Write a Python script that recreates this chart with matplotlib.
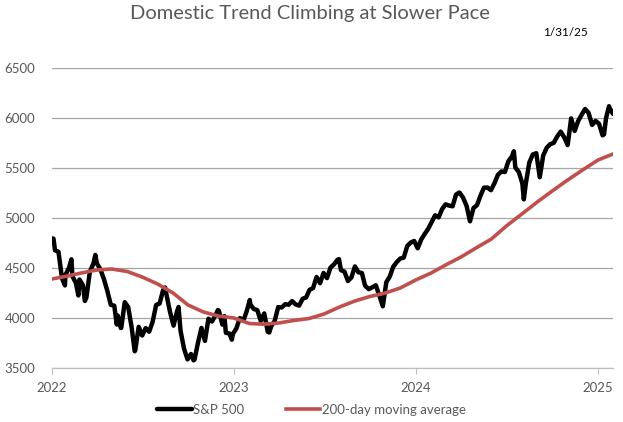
import matplotlib
matplotlib.use("Agg")
import matplotlib.pyplot as plt
import pandas as pd

# ---- S&P 500 weekly closes ----
sp_start_date = "2022-01-03"
sp_start_value = 4796
sp_2022 = [4677, 4662, 4398, 4432, 4500, 4418, 4349, 4385, 4329, 4204, 4463, 4543,
           4546, 4488, 4392, 4272, 4132, 4123, 4024, 3901, 4158, 4109, 3901, 3675,
           3912, 3825, 3899, 3863, 3962, 4130, 4145, 4280, 4228, 4058, 3924, 4067,
           3873, 3693, 3586, 3640, 3583, 3753, 3901, 3771, 3993, 3965, 4026, 4072,
           3934, 3852, 3845, 3840]
sp_2023 = [3895, 3999, 3973, 4071, 4136, 4090, 4079, 3970, 4046, 3862, 3917, 3971,
           4109, 4105, 4138, 4133, 4169, 4136, 4124, 4192, 4205, 4282, 4299, 4410,
           4348, 4450, 4399, 4505, 4536, 4582, 4478, 4464, 4370, 4406, 4516, 4457,
           4450, 4320, 4288, 4308, 4327, 4224, 4117, 4358, 4415, 4514, 4559, 4595,
           4604, 4719, 4755, 4770]
sp_2024 = [4697, 4784, 4840, 4891, 4959, 5027, 5006, 5089, 5137, 5124, 5117, 5234,
           5254, 5204, 5123, 4967, 5100, 5128, 5223, 5303, 5305, 5278, 5347, 5432,
           5465, 5460, 5567, 5615, 5505, 5459, 5346, 5344, 5554, 5635, 5648, 5408,
           5626, 5703, 5738, 5751, 5815, 5864, 5808, 5729, 5996, 5871, 5969, 6032,
           6090, 6051, 5931, 5971]
sp_2025 = [5942, 5827, 5997, 6101, 6041]

# intra-week highs and lows visible on the chart
extreme_dates = ["2022-01-04", "2022-01-27", "2022-02-09", "2022-02-23", "2022-03-08",
                 "2022-03-29", "2022-05-11", "2022-05-19", "2022-06-16", "2022-08-16",
                 "2022-09-12", "2022-10-12", "2022-11-30", "2022-12-13", "2022-12-28",
                 "2023-02-02", "2023-03-13", "2023-07-31", "2023-09-21", "2024-03-28",
                 "2024-04-19", "2024-07-16", "2024-08-05", "2024-09-06", "2024-12-06",
                 "2025-01-13", "2025-01-23"]
extreme_values = [4793, 4326, 4587, 4225, 4170,
                  4631, 3935, 3900, 3667, 4305,
                  4110, 3577, 4080, 4019, 3783,
                  4180, 3855, 4589, 4330, 5254,
                  4967, 5667, 5186, 5408, 6090,
                  5836, 6118]

# ---- 200-day moving average (monthly) ----
ma_dates = pd.date_range("2022-01-01", "2025-01-01", freq="MS").tolist() + [pd.Timestamp("2025-01-31")]
ma_values = [4390, 4420, 4450, 4480, 4490, 4465, 4410, 4340, 4250, 4130, 4060, 4020,
             4000, 3945, 3938, 3950, 3975, 3995, 4040, 4110, 4170, 4215, 4250, 4300,
             4380, 4450, 4530, 4610, 4700, 4790, 4920, 5040, 5160, 5270, 5380, 5480,
             5580, 5640]

title = "Domestic Trend Climbing at Slower Pace"
date_note = "1/31/25"
series_names = ["S&P 500", "200-day moving average"]
y_ticks = [3500, 4000, 4500, 5000, 5500, 6000, 6500]
x_tick_labels = ["2022", "2023", "2024", "2025"]

# ---- build series ----
weekly_vals = sp_2022 + sp_2023 + sp_2024 + sp_2025
weekly_dates = pd.date_range("2022-01-07", periods=len(weekly_vals), freq="W-FRI")
sp = pd.Series(weekly_vals, index=weekly_dates)
sp = pd.concat([sp, pd.Series([sp_start_value], index=[pd.Timestamp(sp_start_date)]),
                pd.Series(extreme_values, index=pd.to_datetime(extreme_dates))])
sp = sp[~sp.index.duplicated(keep="last")].sort_index()

ma = pd.Series(ma_values, index=pd.to_datetime(ma_dates))

plt.rcParams['font.family'] = ['Lato', 'DejaVu Sans']

fig = plt.figure(figsize=(6.23, 4.22), dpi=100)
ax = fig.add_axes([52/623, 1-368/422, (613-52)/623, (368-68)/422])

black_line, = ax.plot(sp.index, sp.values, color="black", lw=3.2,
                      solid_joinstyle="round", solid_capstyle="round")
red_line, = ax.plot(ma.index, ma.values, color="#C0504D", lw=2.6)

ax.set_xlim(pd.Timestamp("2022-01-01"), pd.Timestamp("2025-01-31"))
ax.set_ylim(3500, 6500)
ax.set_yticks(y_ticks)
ax.set_yticklabels([str(v) for v in y_ticks], color="#595959", fontsize=9.5)
ax.set_xticks([pd.Timestamp(f"{y}-01-01") for y in x_tick_labels])
ax.set_xticklabels(x_tick_labels, color="#595959", fontsize=9.5)
ax.grid(axis="y", color="#A6A6A6", lw=0.9)
ax.set_axisbelow(True)
for s in ["top", "right", "left"]:
    ax.spines[s].set_visible(False)
ax.spines["bottom"].set_color("#BFBFBF")
ax.spines["bottom"].set_linewidth(0.9)
ax.tick_params(axis="y", length=0, pad=12)
ax.tick_params(axis="x", length=4, color="#BFBFBF", pad=6)

fig.text(0.497, 1-13/422, title, ha="center", va="center", fontsize=14.5, color="#595959")
fig.text(565/623, 1-33/422, date_note, ha="center", va="center", fontsize=8.5, color="black")

leg = fig.legend([black_line, red_line], series_names, loc="center",
                 bbox_to_anchor=(0.5, 1-410/422), ncol=2, frameon=False,
                 fontsize=9.5, handlelength=2.6, handletextpad=0.1, columnspacing=3.2)
for t in leg.get_texts():
    t.set_color("#595959")

fig.savefig("out.png", dpi=100)
